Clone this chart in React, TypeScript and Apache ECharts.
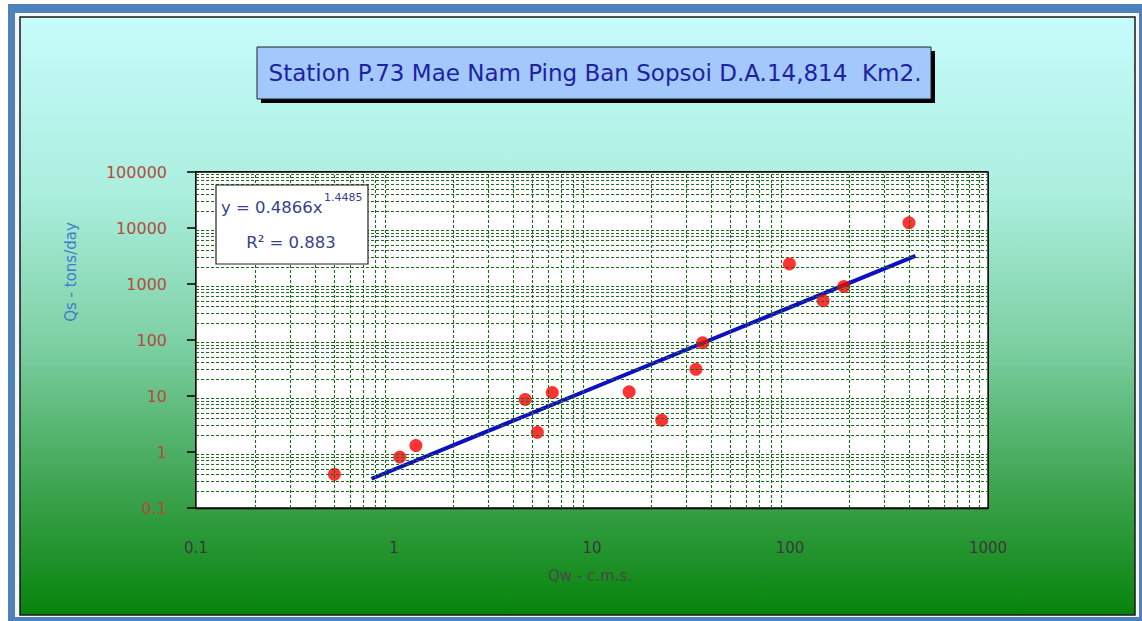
import React, { useEffect, useRef } from "react";
import * as echarts from "echarts";

// Observed points: Qw (c.m.s.) vs Qs (tons/day)
const qw = [0.5, 1.07, 1.29, 4.6, 5.3, 6.3, 15.4, 22.5, 33.5, 36.2, 99.3, 147, 187, 399];
const qs = [0.4, 0.81, 1.3, 8.7, 2.25, 11.5, 11.9, 3.7, 30, 89, 2280, 500, 900, 12400];

// Power trend line y = a * x^b, drawn between its end points on x
const trendA = 0.4866;
const trendB = 1.4485;
const trendX = [0.77, 430];

const xTickLabels = ["0.1", "1", "10", "100", "1000"];
const yTickLabels = ["0.1", "1", "10", "100", "1000", "10000", "100000"];
const xDecades = [0.1, 1, 10, 100];
const yDecades = [0.1, 1, 10, 100, 1000, 10000];
const minorSteps = [2, 3, 4, 5, 6, 7, 8, 9];

const titleText = "Station P.73 Mae Nam Ping Ban Sopsoi D.A.14,814  Km2.";
const xTitle = "Qw - c.m.s.";
const yTitle = "Qs - tons/day";

export default function App() {
  const ref = useRef<HTMLDivElement>(null);
  useEffect(() => {
    if (!ref.current) return;
    const chart = echarts.init(ref.current, undefined, { renderer: "svg" });
    const font = "DejaVu Sans";
    const minorX: any[] = [];
    xDecades.forEach((d) => minorSteps.forEach((m) => minorX.push({ xAxis: +(d * m).toPrecision(6) })));
    const minorY: any[] = [];
    yDecades.forEach((d) => minorSteps.forEach((m) => minorY.push({ yAxis: +(d * m).toPrecision(6) })));
    const trendData = trendX.map((x) => [x, trendA * Math.pow(x, trendB)]);

    chart.setOption({
      animation: false,
      backgroundColor: "#ffffff",
      grid: {
        left: 196,
        top: 172,
        width: 792,
        height: 336,
        show: true,
        backgroundColor: "#ffffff",
        borderColor: "#000",
        borderWidth: 1.3,
        z: 1,
      },
      xAxis: {
        type: "log",
        logBase: 10,
        min: 0.1,
        max: 1000,
        axisLine: { show: true, lineStyle: { color: "#000", width: 1.3 } },
        axisTick: { show: false },
        splitLine: { show: true, lineStyle: { color: "#000", width: 1.5 } },
        axisLabel: {
          margin: 32,
          fontFamily: font,
          fontSize: 15,
          color: "#3a3a3a",
          formatter: (_v: number, i: number) => xTickLabels[i] ?? "",
        },
      },
      yAxis: {
        type: "log",
        logBase: 10,
        min: 0.1,
        max: 100000,
        axisLine: { show: true, lineStyle: { color: "#000", width: 1.3 } },
        axisTick: { show: true, length: 9, lineStyle: { color: "#000", width: 1.5 } },
        splitLine: { show: true, lineStyle: { color: "#000", width: 1.5 } },
        axisLabel: {
          margin: 29,
          fontFamily: font,
          fontSize: 16,
          color: "#b24c3e",
          formatter: (_v: number, i: number) => yTickLabels[i] ?? "",
        },
      },
      series: [
        {
          type: "line",
          data: [],
          silent: true,
          z: 1,
          markLine: {
            silent: true,
            symbol: "none",
            label: { show: false },
            lineStyle: { color: "#1d6a1d", type: [3, 2], width: 1.1 },
            data: [...minorX, ...minorY],
          },
        },
        {
          type: "line",
          data: trendData,
          showSymbol: false,
          symbol: "none",
          lineStyle: { color: "#0e0ec4", width: 4 },
          z: 3,
        },
        {
          type: "scatter",
          data: qw.map((x, i) => [x, qs[i]]),
          symbol: "circle",
          symbolSize: 13,
          itemStyle: { color: "#ff0000" },
          z: 4,
        },
      ],
      graphic: [
        { type: "rect", z: -100, silent: true, shape: { x: 8, y: 4, width: 1140, height: 625 }, style: { fill: "#4f81bd" } },
        { type: "rect", z: -99, silent: true, shape: { x: 15, y: 13, width: 1124, height: 604 }, style: { fill: "#f4f6f8" } },
        {
          type: "rect",
          z: -98,
          silent: true,
          shape: { x: 20, y: 17, width: 1115, height: 598 },
          style: {
            stroke: "#1a1a1a",
            lineWidth: 1.5,
            fill: new echarts.graphic.LinearGradient(0, 0, 0, 1, [
              { offset: 0, color: "#c6fcfc" },
              { offset: 0.3, color: "#aaeedd" },
              { offset: 0.55, color: "#7ccfa2" },
              { offset: 0.78, color: "#3fa552" },
              { offset: 1, color: "#07840b" },
            ]),
          },
        },
        // title box with shadow
        { type: "rect", z: 100, silent: true, shape: { x: 261, y: 51, width: 674, height: 52 }, style: { fill: "#000" } },
        { type: "rect", z: 101, silent: true, shape: { x: 257, y: 47, width: 674, height: 52 }, style: { fill: "#a2c8fc", stroke: "#222", lineWidth: 1 } },
        {
          type: "text",
          z: 102,
          silent: true,
          x: 595,
          y: 73,
          style: { text: titleText, fontFamily: font, fontSize: 23, fill: "#1e22a2", align: "center", verticalAlign: "middle" },
        },
        // equation box
        { type: "rect", z: 100, silent: true, shape: { x: 216, y: 185, width: 152, height: 79 }, style: { fill: "#fff", stroke: "#222", lineWidth: 1.2 } },
        {
          type: "text",
          z: 101,
          silent: true,
          x: 221,
          y: 207,
          style: { text: "y = 0.4866x", fontFamily: font, fontSize: 16.5, fill: "#3a3f8c", align: "left", verticalAlign: "middle" },
        },
        {
          type: "text",
          z: 101,
          silent: true,
          x: 324,
          y: 197,
          style: { text: "1.4485", fontFamily: font, fontSize: 11, fill: "#3a3f8c", align: "left", verticalAlign: "middle" },
        },
        {
          type: "text",
          z: 101,
          silent: true,
          x: 291,
          y: 242,
          style: { text: "R² = 0.883", fontFamily: font, fontSize: 16.5, fill: "#3a3f8c", align: "center", verticalAlign: "middle" },
        },
        // axis titles
        {
          type: "text",
          z: 101,
          silent: true,
          x: 71,
          y: 272,
          rotation: Math.PI / 2,
          style: { text: yTitle, fontFamily: font, fontSize: 15, fill: "#3f7bd0", align: "center", verticalAlign: "middle" },
        },
        {
          type: "text",
          z: 101,
          silent: true,
          x: 590,
          y: 576,
          style: { text: xTitle, fontFamily: font, fontSize: 15, fill: "#474747", align: "center", verticalAlign: "middle" },
        },
      ],
    });
    return () => chart.dispose();
  }, []);
  return (
    <div
      ref={ref}
      style={{ position: "fixed", left: 0, top: 0, width: 1142, height: 621 }}
    />
  );
}
